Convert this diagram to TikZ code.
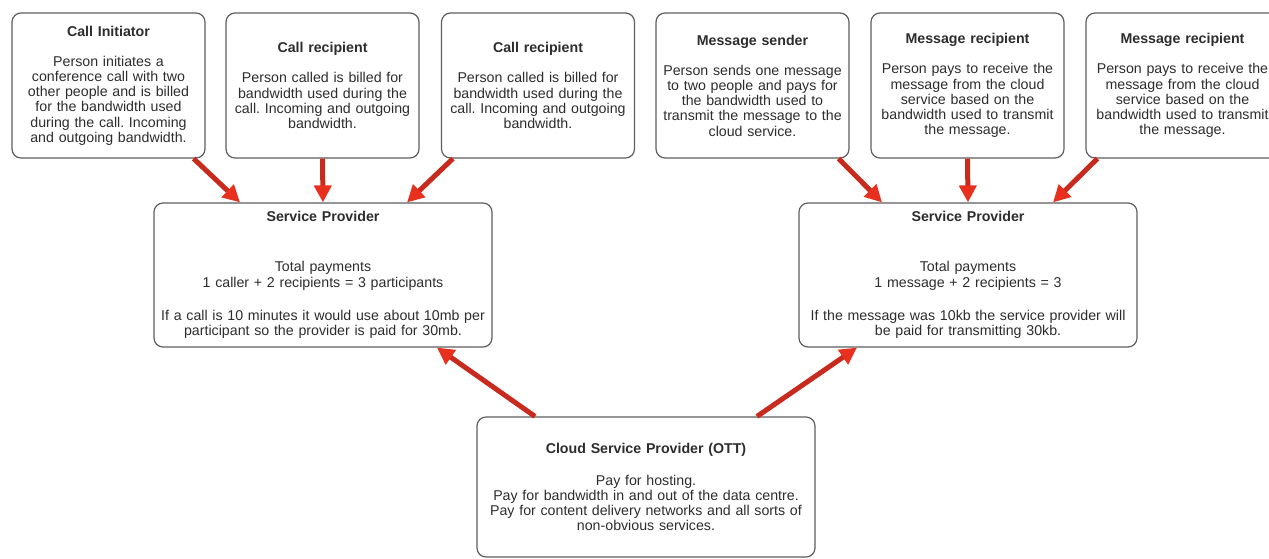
\documentclass[tikz,border=0pt]{standalone}
\usepackage{fontspec}
\setmainfont{Liberation Sans}
\usetikzlibrary{arrows.meta}
\definecolor{boxline}{RGB}{95,95,95}
\definecolor{txt}{RGB}{45,45,45}
\definecolor{shaft}{RGB}{200,42,30}
\definecolor{arrhead}{RGB}{232,48,30}
\tikzset{
  card/.style={draw=boxline, line width=1.2pt, rounded corners=9pt, fill=white,
    minimum width=193pt, minimum height=145pt, text width=185pt, align=center,
    inner sep=4pt, text=txt, font=\fontsize{14.2}{15.2}\selectfont},
  widecard/.style={card, minimum width=338pt, minimum height=144pt, text width=330pt},
  flow/.style={draw=shaft, line width=5pt,
    -{Triangle[length=17pt,width=17pt,color=arrhead,fill=arrhead]}},
}
\newcommand{\cardtitle}[1]{\textbf{#1}\\[15pt]}
\begin{document}
\frenchspacing
\begin{tikzpicture}[x=1pt,y=-1pt]
\useasboundingbox (0,0) rectangle (1269,558);
\clip (0,0) rectangle (1269,558);
\fill[white] (0,0) rectangle (1269,558);

% callers
\node[card] (b1) at (108.5,85.5) {\cardtitle{Call Initiator}Person initiates a\\conference call with two\\other people and is billed\\for the bandwidth used\\during the call. Incoming\\and outgoing bandwidth.};
\node[card] (b2) at (322.5,85.5) {\cardtitle{Call recipient}Person called is billed for\\bandwidth used during the\\call. Incoming and outgoing\\bandwidth.};
\node[card] (b3) at (538,85.5) {\cardtitle{Call recipient}Person called is billed for\\bandwidth used during the\\call. Incoming and outgoing\\bandwidth.};

% messaging
\node[card] (b4) at (752.5,85.5) {\cardtitle{Message sender}Person sends one message\\to two people and pays for\\the bandwidth used to\\transmit the message to the\\cloud service.};
\node[card] (b5) at (967.5,85.5) {\cardtitle{Message recipient}Person pays to receive the\\message from the cloud\\service based on the\\bandwidth used to transmit\\the message.};
\node[card] (b6) at (1182.5,85.5) {\cardtitle{Message recipient}Person pays to receive the\\message from the cloud\\service based on the\\bandwidth used to transmit\\the message.};

% providers
\node[widecard] (spl) at (323,275) {\textbf{Service Provider}\\[35pt]Total payments\\1 caller + 2 recipients = 3 participants\\[18pt]If a call is 10 minutes it would use about 10mb per\\participant so the provider is paid for 30mb.};
\node[widecard] (spr) at (968,275) {\textbf{Service Provider}\\[35pt]Total payments\\1 message + 2 recipients = 3\\[18pt]If the message was 10kb the service provider will\\be paid for transmitting 30kb.};
\node[widecard, minimum height=140pt] (ott) at (646,487) {\textbf{Cloud Service Provider (OTT)}\\[17pt]Pay for hosting.\\Pay for bandwidth in and out of the data centre.\\Pay for content delivery networks and all sorts of\\non-obvious services.};

% payment flows
\draw[flow] ([xshift=-12pt]b1.south east) -- ([xshift=-83pt]spl.north);
\draw[flow] (b2.south) -- (spl.north);
\draw[flow] ([xshift=12pt]b3.south west) -- ([xshift=84pt]spl.north);
\draw[flow] ([xshift=-11pt]b4.south east) -- ([xshift=-86pt]spr.north);
\draw[flow] (b5.south) -- (spr.north);
\draw[flow] ([xshift=12pt]b6.south west) -- ([xshift=85pt]spr.north);
\draw[flow] ([xshift=-111pt]ott.north) -- ([xshift=114pt]spl.south);
\draw[flow] ([xshift=111pt]ott.north) -- ([xshift=-111pt]spr.south);
\end{tikzpicture}
\end{document}
